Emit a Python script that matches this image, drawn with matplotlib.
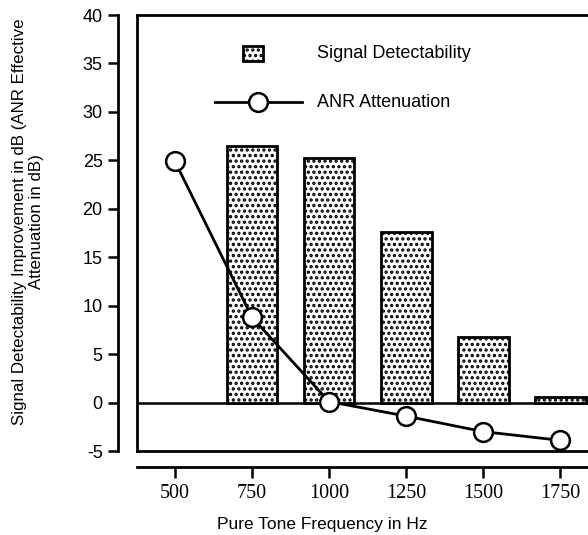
import matplotlib.pyplot as plt
from matplotlib.patches import Rectangle

# values
freqs_bar = [750, 1000, 1250, 1500, 1750]
detectability = [26.5, 25.2, 17.6, 6.8, 0.6]
freqs_line = [500, 750, 1000, 1250, 1500, 1750]
anr_atten = [24.9, 8.8, 0.1, -1.4, -3.0, -3.9]
xticks = [500, 750, 1000, 1250, 1500, 1750]
yticks = [-5, 0, 5, 10, 15, 20, 25, 30, 35, 40]

plt.rcParams['font.family'] = 'Liberation Sans'
plt.rcParams['hatch.linewidth'] = 1.6

W, H = 588, 535
fig = plt.figure(figsize=(W / 100, H / 100), dpi=100)

x0, x1 = 137 / W, 1.0
y0, y1 = (H - 451) / H, (H - 15) / H
xlim = (377, 1840)
ylim = (-5, 40)

ax = fig.add_axes([x0, y0, x1 - x0, y1 - y0])
ax.bar(freqs_bar, detectability, width=165, color='white', edgecolor='black',
       linewidth=2, hatch='...', zorder=2)
ax.axhline(0, color='black', lw=1.8, zorder=1)
ax.plot(freqs_line, anr_atten, color='black', lw=2, marker='o', ms=13.5,
        mfc='white', mec='black', mew=1.8, zorder=3, clip_on=False)
ax.set_xlim(*xlim)
ax.set_ylim(*ylim)
ax.set_xticks([])
ax.set_yticks([])
for s in ['left', 'top', 'bottom']:
    ax.spines[s].set_linewidth(2)
ax.spines['right'].set_visible(False)

# legend drawn by hand
ax.add_patch(Rectangle((0.235, 0.895), 0.045, 0.034, transform=ax.transAxes,
                       facecolor='white', edgecolor='black', lw=2, hatch='...',
                       clip_on=False))
ax.text(0.4, 0.912, 'Signal Detectability', transform=ax.transAxes,
        fontsize=13, va='center')
ax.plot([0.173, 0.365], [0.80, 0.80], transform=ax.transAxes, color='black',
        lw=2, marker='', clip_on=False)
ax.plot([0.268], [0.80], transform=ax.transAxes, marker='o', ms=13.5,
        mfc='white', mec='black', mew=1.8, clip_on=False)
ax.text(0.4, 0.80, 'ANR Attenuation', transform=ax.transAxes,
        fontsize=13, va='center')

# detached y axis
ay = fig.add_axes([118 / W, y0, 0.0001, y1 - y0])
ay.set_ylim(*ylim)
ay.set_yticks(yticks)
ay.set_yticklabels([str(t) for t in yticks], fontsize=13)
ay.tick_params(axis='y', direction='out', length=7, width=1.8, pad=4)
ay.set_xticks([])
for s in ['right', 'top', 'bottom']:
    ay.spines[s].set_visible(False)
ay.spines['left'].set_linewidth(2)
ay.patch.set_visible(False)

# detached x axis
axx = fig.add_axes([x0, (H - 467) / H, x1 - x0, 0.0001])
axx.set_xlim(*xlim)
axx.set_xticks(xticks)
axx.set_xticklabels([str(t) for t in xticks], fontsize=14.5,
                    family='Liberation Serif')
axx.tick_params(axis='x', direction='out', length=8, width=1.8, pad=4)
axx.set_yticks([])
for s in ['left', 'right', 'top']:
    axx.spines[s].set_visible(False)
axx.spines['bottom'].set_linewidth(2)
axx.patch.set_visible(False)

fig.text(322 / W, 1 - 525 / H, 'Pure Tone Frequency in Hz', ha='center',
         va='center', fontsize=12.5)
fig.text(28 / W, 1 - 222 / H,
         'Signal Detectability Improvement in dB (ANR Effective\nAttenuation in dB)',
         rotation=90, ha='center', va='center', fontsize=12.2, linespacing=1.1)

fig.savefig('out.png', dpi=100)
